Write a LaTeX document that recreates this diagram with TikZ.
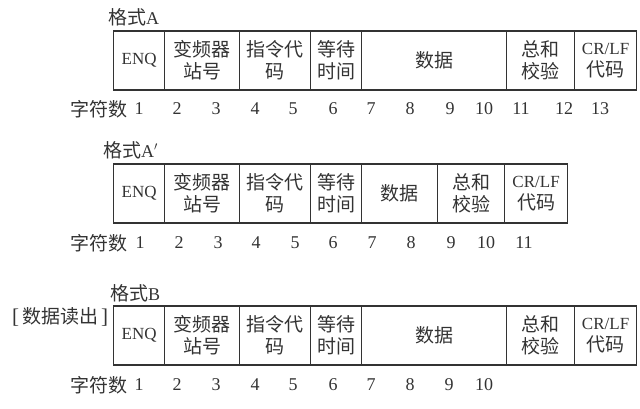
\documentclass[tikz,border=0pt]{standalone}
\usepackage{fontspec}
\setmainfont{Liberation Serif}
\newfontfamily\cjk{Noto Sans CJK SC}
\newcommand{\zh}[1]{{\fontsize{19}{22}\cjk #1}}
\definecolor{ink}{HTML}{333333}
\begin{document}
\begin{tikzpicture}[x=1pt,y=-1pt,
  every node/.style={text=ink, font=\fontsize{18}{22}\selectfont},
  field/.style={draw=ink, line width=1.2pt, minimum height=59pt, inner sep=0pt, align=center, anchor=west},
  title/.style={anchor=west, inner sep=0pt},
  num/.style={inner sep=0pt}]
\useasboundingbox (0,0) rectangle (640,408);

% ---------- Format A ----------
\node[title] (tA) at (108,17) {\zh{格式}A};
\node[field, minimum width=51pt] (a1) at (113,60.5) {\fontsize{17}{22}\selectfont ENQ};
\node[field, minimum width=75pt] (a2) at (164,60.5) {\zh{变频器}\\\zh{站号}};
\node[field, minimum width=71pt] (a3) at (239,60.5) {\zh{指令代}\\\zh{码}};
\node[field, minimum width=51pt] (a4) at (310,60.5) {\zh{等待}\\\zh{时间}};
\node[field, minimum width=145pt] (a5) at (361,60.5) {\zh{数据}};
\node[field, minimum width=68pt] (a6) at (506,60.5) {\zh{总和}\\\zh{校验}};
\node[field, minimum width=62pt] (a7) at (574,60.5) {\fontsize{17}{22}\selectfont CR/LF\\\zh{代码}};
\node[num] (cA) at (98.5,109) {\zh{字符数}};
\foreach \x/\t [count=\i] in {139/1,177/2,216/3,255/4,293/5,333/6,371/7,410/8,450/9,484/10,521/11,564/12,600/13}
  \node[num] (nA\i) at (\x,109) {\t};

% ---------- Format A' ----------
\node[title] (tB) at (103,150) {\zh{格式}A$'$};
\node[field, minimum width=51pt] (b1) at (113,193.5) {\fontsize{17}{22}\selectfont ENQ};
\node[field, minimum width=75pt] (b2) at (164,193.5) {\zh{变频器}\\\zh{站号}};
\node[field, minimum width=71pt] (b3) at (239,193.5) {\zh{指令代}\\\zh{码}};
\node[field, minimum width=51pt] (b4) at (310,193.5) {\zh{等待}\\\zh{时间}};
\node[field, minimum width=76pt] (b5) at (361,193.5) {\zh{数据}};
\node[field, minimum width=67pt] (b6) at (437,193.5) {\zh{总和}\\\zh{校验}};
\node[field, minimum width=63pt] (b7) at (504,193.5) {\fontsize{17}{22}\selectfont CR/LF\\\zh{代码}};
\node[num] (cB) at (98.5,243) {\zh{字符数}};
\foreach \x/\t [count=\i] in {140/1,179/2,218/3,256/4,295/5,333/6,372/7,411/8,451/9,486/10,524/11}
  \node[num] (nB\i) at (\x,243) {\t};

% ---------- Format B ----------
\node[title] (tC) at (110,293) {\zh{格式}B};
\node[anchor=west, inner sep=0pt] (rd) at (12,317) {{\fontsize{21}{22}\selectfont[}\,\zh{数据读出}\,{\fontsize{21}{22}\selectfont]}};
\node[field, minimum width=51pt] (c1) at (113,335.5) {\fontsize{17}{22}\selectfont ENQ};
\node[field, minimum width=75pt] (c2) at (164,335.5) {\zh{变频器}\\\zh{站号}};
\node[field, minimum width=71pt] (c3) at (239,335.5) {\zh{指令代}\\\zh{码}};
\node[field, minimum width=51pt] (c4) at (310,335.5) {\zh{等待}\\\zh{时间}};
\node[field, minimum width=145pt] (c5) at (361,335.5) {\zh{数据}};
\node[field, minimum width=68pt] (c6) at (506,335.5) {\zh{总和}\\\zh{校验}};
\node[field, minimum width=62pt] (c7) at (574,335.5) {\fontsize{17}{22}\selectfont CR/LF\\\zh{代码}};
\node[num] (cC) at (98.5,385) {\zh{字符数}};
\foreach \x/\t [count=\i] in {139/1,177/2,216/3,255/4,293/5,333/6,371/7,410/8,449/9,484/10}
  \node[num] (nC\i) at (\x,385) {\t};
\end{tikzpicture}
\end{document}
